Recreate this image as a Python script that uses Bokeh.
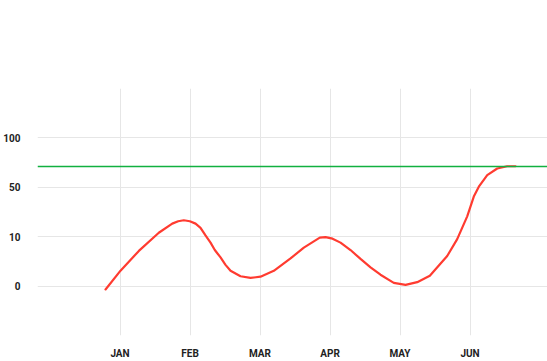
from bokeh.plotting import figure
from bokeh.models import Span, FixedTicker, Range1d
from bokeh.embed import file_html
from bokeh.resources import INLINE

# categories (month positions 0..5)
months = ["JAN", "FEB", "MAR", "APR", "MAY", "JUN"]
# y tick labels (axis is piecewise: 0 -> 10 -> 50 -> 100 evenly spaced)
y_ticks = [0, 10, 50, 100]
threshold = 71

# curve: x in month units, y in data values
curve_x = [-0.207, 0.007, 0.269, 0.554, 0.746, 0.831, 0.911, 0.997, 1.079, 1.15,
           1.221, 1.293, 1.354, 1.436, 1.507, 1.579, 1.721, 1.864, 2.007, 2.197,
           2.436, 2.626, 2.854, 2.936, 3.036, 3.15, 3.293, 3.436, 3.579, 3.721,
           3.911, 4.079, 4.246, 4.426, 4.674, 4.817, 4.96, 5.054, 5.126, 5.246,
           5.389, 5.531, 5.65]
curve_y = [-0.68, 3.12, 7.12, 13.2, 20.6, 22.5, 23.3, 22.5, 20.6, 17.2,
           11.0, 8.8, 7.3, 5.8, 4.3, 3.1, 2.0, 1.66, 1.9, 3.1,
           5.6, 7.8, 9.8, 9.9, 9.6, 8.8, 7.3, 5.5, 3.8, 2.3,
           0.66, 0.26, 0.8, 2.1, 6.1, 9.5, 26.5, 42.5, 50.6, 62.3,
           69.0, 71.3, 71.3]


def scale(v):
    # piecewise scale of the value axis
    if v <= 10:
        return v / 10.0
    if v <= 50:
        return 1 + (v - 10) / 40.0
    return 2 + (v - 50) / 50.0


p = figure(width=547, height=361, output_backend="svg", toolbar_location=None,
           x_range=Range1d(-1.179, 6.107), y_range=Range1d(-1, 4),
           min_border_left=0, min_border_right=0, min_border_top=88,
           min_border_bottom=0)
p.outline_line_color = None
p.background_fill_color = "white"
p.border_fill_color = "white"

p.line(curve_x, [scale(v) for v in curve_y],
       line_color="#ff3b30", line_width=2.2, line_cap="round", line_join="round")

p.add_layout(Span(location=scale(threshold), dimension="width",
                  line_color="#12b040", line_width=1.5))

tick_pos = [scale(v) for v in y_ticks]
p.yaxis.ticker = FixedTicker(ticks=tick_pos)
p.yaxis.major_label_overrides = {t: str(v) for t, v in zip(tick_pos, y_ticks)}
p.xaxis.ticker = FixedTicker(ticks=list(range(len(months))))
p.xaxis.major_label_overrides = {i: m for i, m in enumerate(months)}

for ax in (p.xaxis, p.yaxis):
    ax.axis_line_color = None
    ax.major_tick_line_color = None
    ax.minor_tick_line_color = None
    ax.major_tick_out = 0
    ax.major_tick_in = 0
    ax.major_label_text_font = "Roboto"
    ax.major_label_text_font_style = "bold"
    ax.major_label_text_font_size = "10px"
    ax.major_label_text_color = "#222222"
p.yaxis.major_label_standoff = 17
p.xaxis.major_label_standoff = 12
p.xaxis.major_label_text_line_height = 0.6

p.xgrid.ticker = FixedTicker(ticks=list(range(len(months))))
p.ygrid.ticker = FixedTicker(ticks=tick_pos)
p.grid.grid_line_color = "#e6e6e6"
p.grid.grid_line_width = 1

open("out.html", "w").write(file_html(p, INLINE))
